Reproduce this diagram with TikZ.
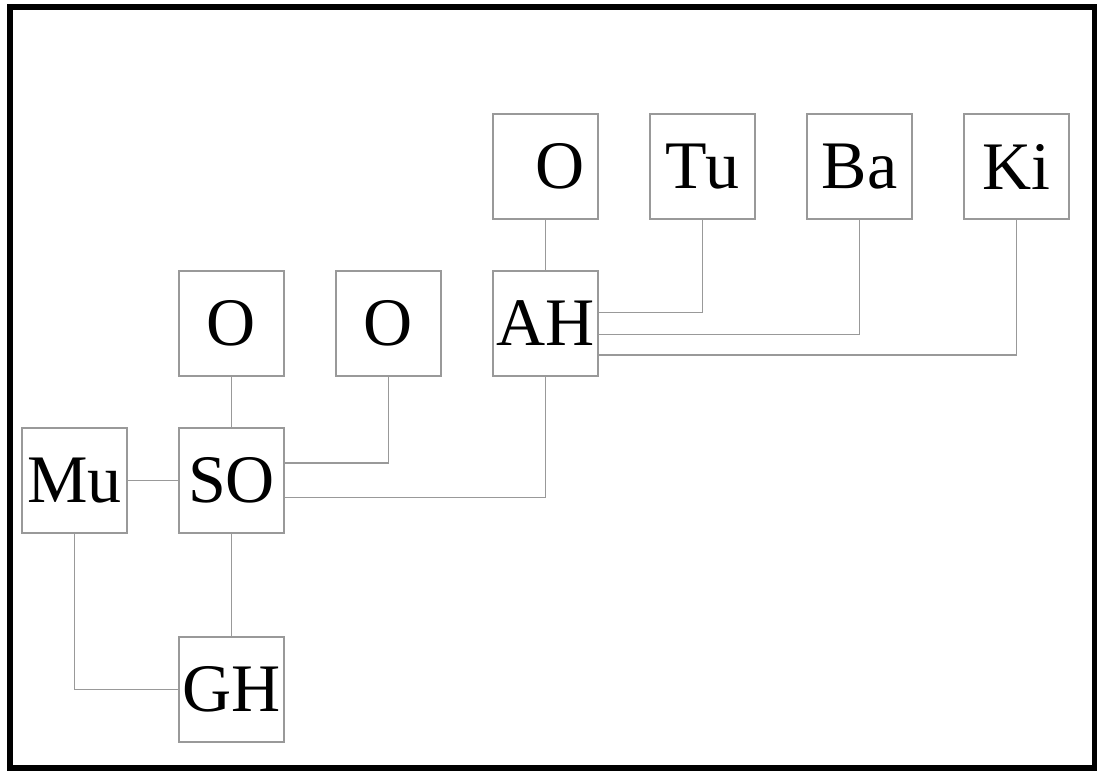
\documentclass[tikz,border=0pt]{standalone}
\usepackage{fontspec}
\setmainfont{Liberation Serif}
\usetikzlibrary{positioning}
\definecolor{boxgray}{gray}{0.6}
\newcommand{\boxfont}{\fontsize{34}{40}\selectfont}
\tikzset{ bx/.style = { rectangle
                       , draw = boxgray
                       , line width   = 0.8pt
                       , inner sep    = 0pt
                       , minimum size = 52.5pt
                       , font         = \boxfont
                       },
          ln/.style = { draw = boxgray
                       , line width   = 0.8pt
                       }
        }

\begin{document}
\begin{tikzpicture}[x=0.5pt, y=-0.5pt, node distance=78.5pt, on grid]
            \useasboundingbox (0,0) rectangle (1097,771);
            \draw[line width=3pt] (10,7) rectangle (1094.5,768);
            % bottom rows
            \node[bx] (mu) at (74.5,480.5) {Mu};
            \node[bx, right=of mu] (so) {SO};
            \node[bx, below=104.5pt of so] (gh) {GH};
            % middle row
            \node[bx, above=of so] (o1) {O};
            \node[bx, right=of o1] (o2) {O};
            \node[bx, right=of o2] (ah) {AH};
            % top row
            \node[bx, above=of ah] (o3) {\raisebox{-5pt}{\hspace*{15pt}O}};
            \node[bx, right=of o3] (tu) {Tu};
            \node[bx, right=of tu] (ba) {Ba};
            \node[bx, right=of ba] (ki) {Ki};

            \draw[ln] (mu.east) -- (so.west);
            \draw[ln] (o1.south) -- (so.north);
            \draw[ln] (so.south) -- (gh.north);
            \draw[ln] (mu.south) |- (gh.west);
            \draw[ln] (o2.south) |- ([yshift=8.75pt]so.east);
            \draw[ln] (ah.south) |- ([yshift=-8.5pt]so.east);
            \draw[ln] (o3.south) -- (ah.north);
            \draw[ln] (tu.south) |- ([yshift=5.6pt]ah.east);
            \draw[ln] (ba.south) |- ([yshift=-5.4pt]ah.east);
            \draw[ln] (ki.south) |- ([yshift=-15.8pt]ah.east);
\end{tikzpicture}
\end{document}
